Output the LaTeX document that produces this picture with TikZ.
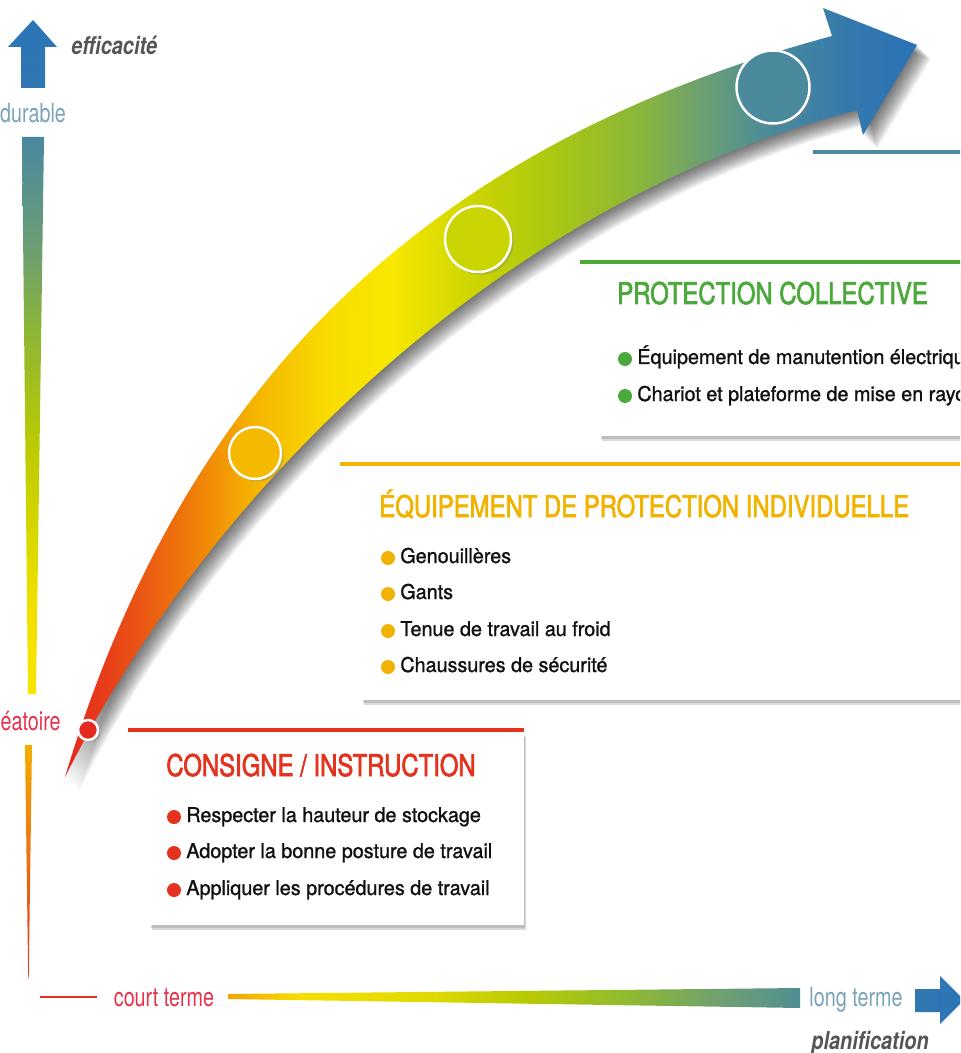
\documentclass[tikz,border=0pt]{standalone}
\usepackage{fontspec}
\setmainfont{TeX Gyre Heros}
\newfontfamily\titrefont[FakeStretch=0.8,FakeBold=2.2]{TeX Gyre Heros}
\newfontfamily\sensfont[FakeStretch=0.81]{TeX Gyre Heros}
\newfontfamily\axefont[FakeStretch=0.75]{TeX Gyre Heros}
\newfontfamily\listefont[FakeStretch=0.97,FakeBold=1.2]{TeX Gyre Heros}
\usetikzlibrary{shadows}

\definecolor{rouge}{HTML}{E4321F}
\definecolor{ambre}{HTML}{F2B300}
\definecolor{vert}{HTML}{4BA83A}
\definecolor{sarcelle}{HTML}{4A8A9C}
\definecolor{bleu}{HTML}{2B74B6}
\definecolor{bleugris}{HTML}{7AA3B8}
\definecolor{rose}{HTML}{E8304A}
\definecolor{gristexte}{HTML}{555555}
\definecolor{noirtexte}{HTML}{111111}

% degrades des fleches
\definecolor{f1}{HTML}{E42A1E}\definecolor{f2}{HTML}{E8401A}
\definecolor{f3}{HTML}{EF7A0A}\definecolor{f4}{HTML}{F5B400}
\definecolor{f5}{HTML}{F8DC00}\definecolor{f6}{HTML}{F8E800}
\definecolor{f7}{HTML}{CAD400}\definecolor{f8}{HTML}{A8C614}
\definecolor{f9}{HTML}{8AB63A}\definecolor{f10}{HTML}{6CA070}
\definecolor{f11}{HTML}{4A8A9C}\definecolor{f12}{HTML}{3479AE}
\definecolor{f13}{HTML}{2A72B6}
\pgfdeclarehorizontalshading{degradefleche}{100bp}{color(0bp)=(f1); color(25bp)=(f1);
  color(27.6bp)=(f2); color(32.3bp)=(f3); color(36.1bp)=(f4); color(40.5bp)=(f5);
  color(44.1bp)=(f6); color(49.2bp)=(f7); color(54bp)=(f8); color(58.7bp)=(f9);
  color(62.3bp)=(f10); color(66.5bp)=(f11); color(71.1bp)=(f12); color(75bp)=(f13);
  color(100bp)=(f13)}

\definecolor{h1}{HTML}{F5A300}\definecolor{h2}{HTML}{F5DF00}
\definecolor{h3}{HTML}{E2DA00}\definecolor{h4}{HTML}{BACB00}
\definecolor{h5}{HTML}{92BB2C}\definecolor{h6}{HTML}{6FA070}
\definecolor{h7}{HTML}{4F8E92}
\pgfdeclarehorizontalshading{degradeterme}{100bp}{color(0bp)=(h1); color(25bp)=(h1);
  color(31.3bp)=(h2); color(41.8bp)=(h3); color(50.5bp)=(h4); color(59.3bp)=(h5);
  color(68bp)=(h6); color(75bp)=(h7); color(100bp)=(h7)}

\definecolor{v1}{HTML}{F8E400}\definecolor{v2}{HTML}{F0E000}
\definecolor{v3}{HTML}{BCCB00}\definecolor{v4}{HTML}{8CB634}
\definecolor{v5}{HTML}{6C9E70}\definecolor{v6}{HTML}{4A88A0}
\pgfdeclareverticalshading{degradeefficacite}{100bp}{color(0bp)=(v1); color(25bp)=(v1);
  color(33.3bp)=(v2); color(46.8bp)=(v3); color(57.6bp)=(v4); color(64.8bp)=(v5);
  color(75bp)=(v6); color(100bp)=(v6)}

\newcommand{\contourfleche}{(65,777) .. controls (185,377) and (432,144) .. (832,36)
  -- (823,8) -- (917,45) -- (863,135) -- (857,110)
  .. controls (507,200) and (213,483) .. (65,777) -- cycle}

\begin{document}
\begin{tikzpicture}[x=0.02cm,y=-0.02cm,
    titre/.style={anchor=base west,inner sep=0,font=\titrefont\fontsize{17}{20}\selectfont},
    item/.style={anchor=base west,inner sep=0,text=noirtexte,font=\listefont\fontsize{11.6}{14}\selectfont},
    puce/.style={circle,inner sep=0,minimum size=0.28cm},
    axe/.style={inner sep=0,font=\axefont\fontsize{15}{18}\selectfont},
    sens/.style={inner sep=0,text=gristexte,font=\sensfont\bfseries\itshape\fontsize{14}{16}\selectfont},
    cadre/.style={fill=white,drop shadow={shadow xshift=1pt,shadow yshift=-3pt,opacity=.3},
      drop shadow={shadow xshift=0.5pt,shadow yshift=-1.5pt,opacity=.3}},
    filet/.style={line width=0.09cm},
    etape/.style={circle,draw=white,line width=1.4pt,inner sep=0,
      drop shadow={shadow xshift=1.5pt,shadow yshift=-1.5pt,opacity=.35}}]
    \useasboundingbox (0,0) rectangle (960,1053);
    \clip (0,0) rectangle (960,1053);

    % axe vertical
    \shade[top color=bleu,bottom color=bleu!85!sarcelle]
        (33,20) -- (57,47) -- (45,47) -- (45,88) -- (21,88) -- (21,47) -- (8,47) -- cycle;
    \node[sens,anchor=west] (efficacite) at (71,45) {efficacité};
    \node[axe,text=bleugris] (durable) at (33,113) {durable};
    \shade[shading=degradeefficacite] (22,137) -- (44,137) -- (36,694) -- (28,694) -- cycle;
    \node[axe,text=rose,anchor=east] (aleatoire) at (61,721) {aléatoire};
    \shade[top color=ambre!90!orange,bottom color=rouge] (25,745) -- (32,745) -- (28.7,978) -- (28.2,978) -- cycle;

    % axe horizontal
    \draw[rouge,line width=1pt] (40,997) -- (97,997);
    \node[axe,text=rose] (court) at (164,998) {court terme};
    \shade[shading=degradeterme] (228,994) -- (800,988) -- (800,1008) -- (228,999) -- cycle;
    \node[axe,text=bleugris] (long) at (856,1000) {long terme};
    \shade[left color=bleu!80!sarcelle,right color=bleu]
        (915,989) -- (940,989) -- (940,976) -- (964,1000) -- (940,1024) -- (940,1012) -- (915,1012) -- cycle;
    \node[sens] (planification) at (870,1043) {planification};

    % grande fleche
    \foreach \d in {1,...,14}
        \fill[black,opacity=.05,shift={(\d,\d)}] \contourfleche;
    \shade[shading=degradefleche] \contourfleche;
    \node[etape,fill=f1,minimum size=0.4cm] (etape1) at (88,730) {};
    \node[etape,fill=f4!85!f5,minimum size=1.04cm] (etape2) at (255,453) {};
    \node[etape,fill=f7,minimum size=1.32cm] (etape3) at (478,239) {};
    \node[etape,fill=f11,minimum size=1.46cm] (etape4) at (773,87) {};

    \draw[filet,sarcelle] (813,152) -- (975,152);

    % protection collective
    \fill[cadre] (600,264) rectangle (975,436);
    \draw[filet,vert,line width=0.08cm] (580,262) -- (975,262);
    \node[titre,text=vert] (collective) at (617,304) {PROTECTION COLLECTIVE};
    \node[puce,fill=vert] (pv1) at (625,359) {};
    \node[item] (v1) at (637,364) {Équipement de manutention électrique};
    \node[puce,fill=vert] (pv2) at (625,396) {};
    \node[item] (v2) at (637,401) {Chariot et plateforme de mise en rayon};

    % equipement de protection individuelle
    \fill[cadre] (362,466) rectangle (975,700);
    \draw[filet,ambre] (340,464) -- (975,464);
    \node[titre,text=ambre] (individuelle) at (379,517) {ÉQUIPEMENT DE PROTECTION INDIVIDUELLE};
    \node[puce,fill=ambre] (pa1) at (388,558) {};
    \node[item] (a1) at (400,563) {Genouillères};
    \node[puce,fill=ambre] (pa2) at (388,594) {};
    \node[item] (a2) at (400,599) {Gants};
    \node[puce,fill=ambre] (pa3) at (388,631) {};
    \node[item] (a3) at (400,636) {Tenue de travail au froid};
    \node[puce,fill=ambre] (pa4) at (388,667) {};
    \node[item] (a4) at (400,672) {Chaussures de sécurité};

    % consigne
    \fill[cadre] (150,732) rectangle (524,925);
    \draw[filet,rouge] (128,730) -- (524,730);
    \node[titre,text=rouge] (consigne) at (166,776) {CONSIGNE / INSTRUCTION};
    \node[puce,fill=rouge] (pr1) at (174,817) {};
    \node[item] (r1) at (186,822) {Respecter la hauteur de stockage};
    \node[puce,fill=rouge] (pr2) at (174,853) {};
    \node[item] (r2) at (186,858) {Adopter la bonne posture de travail};
    \node[puce,fill=rouge] (pr3) at (174,890) {};
    \node[item] (r3) at (186,895) {Appliquer les procédures de travail};
\end{tikzpicture}
\end{document}
